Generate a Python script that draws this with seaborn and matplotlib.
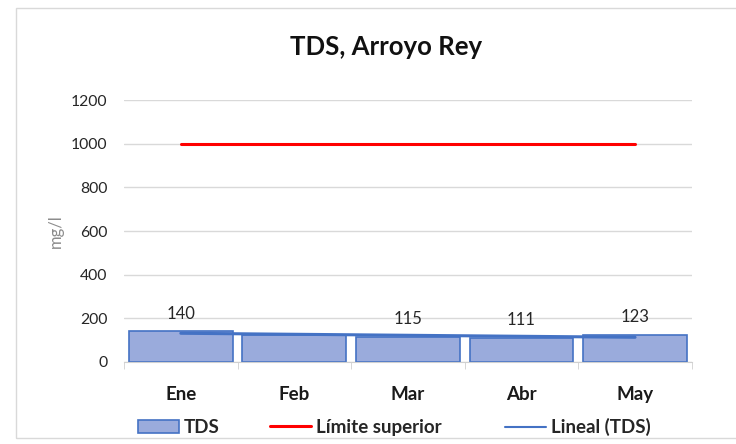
import numpy as np
import pandas as pd
import matplotlib
matplotlib.use("Agg")
import matplotlib.pyplot as plt
from matplotlib.patches import Rectangle, Patch
from matplotlib.lines import Line2D
import seaborn as sns

months = ["Ene", "Feb", "Mar", "Abr", "May"]
tds = [140, 123, 115, 111, 123]
shown_labels = [140, None, 115, 111, 123]
limite = [1000, 1000, 1000, 1000, 1000]

sns.set_style("white")
plt.rcParams["font.family"] = ["Lato", "DejaVu Sans"]

df = pd.DataFrame({"mes": months, "TDS": tds, "limite": limite})

fig = plt.figure(figsize=(7.36, 4.44), dpi=100)
ax = fig.add_axes([0.1685, 0.1847, 0.7715, 0.590])

sns.barplot(data=df, x="mes", y="TDS", color="#9aabdc", width=0.915,
            edgecolor="#4472c4", linewidth=1.2, saturation=1, ax=ax, zorder=2)

# red upper limit
sns.lineplot(x=np.arange(len(months)), y=df["limite"], color="#ff0000",
             linewidth=2.2, ax=ax, zorder=3)

# linear trend of TDS
x = np.arange(len(months))
k, b = np.polyfit(x, tds, 1)
sns.lineplot(x=x, y=k * x + b, color="#4472c4", linewidth=2.2, ax=ax, zorder=4)

for i, v in enumerate(shown_labels):
    if v is not None:
        ax.annotate(str(v), (i, tds[i]), xytext=(0, 7), textcoords="offset points",
                    ha="center", va="bottom", fontsize=12, color="#262626")

ax.set_ylim(0, 1200)
ax.set_xlim(-0.5, len(months) - 0.5)
ax.set_yticks(range(0, 1201, 200))
ax.yaxis.grid(True, color="#d9d9d9", linewidth=1)
ax.set_axisbelow(True)
for s in ["top", "right", "left"]:
    ax.spines[s].set_visible(False)
ax.spines["bottom"].set_color("#d0d0d0")
ax.set_xticks(x)
ax.set_xticklabels(months, fontweight="bold", fontsize=13.5, color="#1a1a1a")
ax.set_xticks(np.arange(-0.5, len(months)), minor=True)
ax.tick_params(axis="x", which="major", length=0, pad=17)
ax.tick_params(axis="x", which="minor", length=5, color="#d0d0d0", bottom=True)
ax.tick_params(axis="y", length=0, labelsize=11.3, labelcolor="#262626", pad=12)
ax.set_xlabel("")
ax.set_ylabel("mg/l", color="#8c8c8c", fontsize=12, labelpad=5)

fig.text(0.524, 0.894, "TDS, Arroyo Rey", ha="center", va="center",
         fontsize=18.5, fontweight="bold", color="#111111")

# legend: three entries placed like the spreadsheet legend
entries = [
    (Patch(facecolor="#9aabdc", edgecolor="#4472c4", linewidth=1.2), "TDS", 138),
    (Line2D([], [], color="#ff0000", linewidth=2.2), "Límite superior", 270),
    (Line2D([], [], color="#4472c4", linewidth=1.5), "Lineal (TDS)", 505),
]
for h, lab, xpos in entries:
    leg = fig.legend([h], [lab], loc="center left", bbox_to_anchor=(xpos / 736, 0.038),
                     frameon=False, prop={"weight": "bold", "size": 13.5},
                     handlelength=2.2, handletextpad=0.25, borderpad=0,
                     borderaxespad=0)

fig.patches.append(Rectangle((0.022, 0.013), 1.2, 0.969, transform=fig.transFigure,
                             fill=False, edgecolor="#d9d9d9", linewidth=1))

fig.savefig("out.png", dpi=100)
